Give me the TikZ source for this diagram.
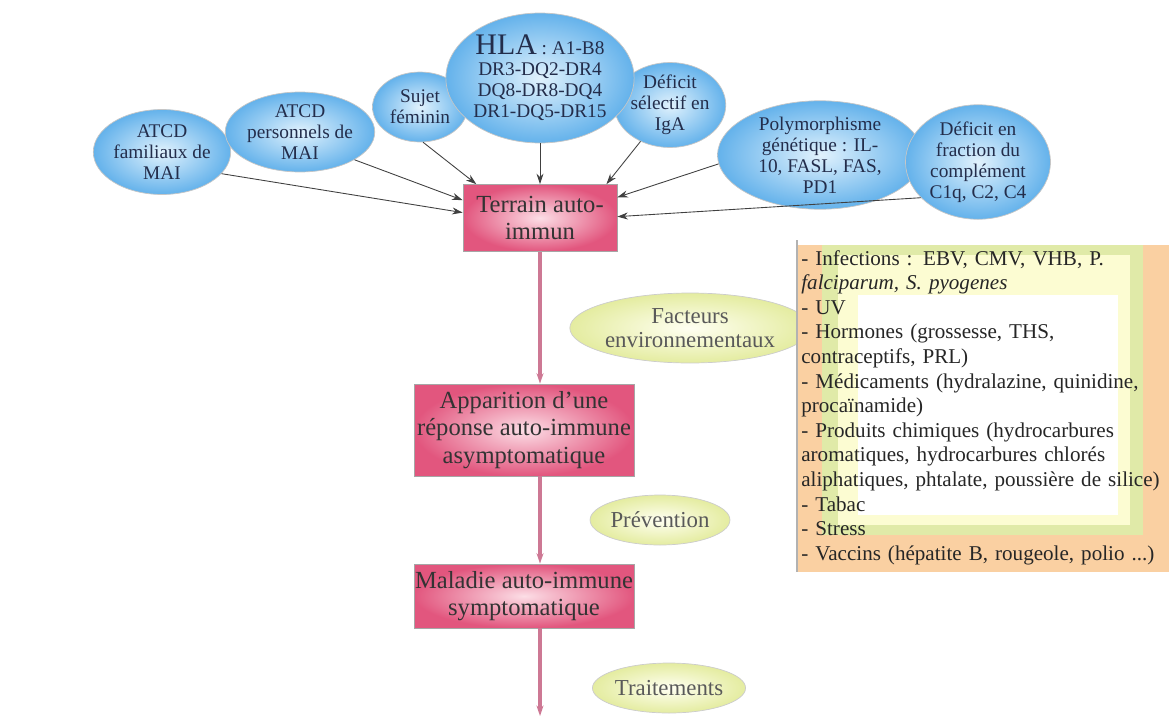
\documentclass[tikz,border=0pt]{standalone}
\usepackage{fontspec}
\setmainfont{Liberation Serif}
\usetikzlibrary{shapes.geometric,arrows.meta}

\definecolor{bluefill}{RGB}{100,178,235}
\definecolor{bluecore}{RGB}{225,242,253}
\definecolor{bluetext}{RGB}{35,45,75}
\definecolor{pinkfill}{RGB}{226,86,126}
\definecolor{pinkcore}{RGB}{252,222,230}
\definecolor{creamfill}{RGB}{228,236,160}
\definecolor{creamcore}{RGB}{255,255,242}
\definecolor{orangeband}{RGB}{250,208,162}
\definecolor{greenband}{RGB}{224,234,168}
\definecolor{paleband}{RGB}{252,252,210}
\definecolor{flowline}{RGB}{205,120,148}

\begin{document}
\begin{tikzpicture}[x=0.02cm,y=-0.02cm,>={Stealth[length=6pt,width=4pt]},
  risk node/.style={ellipse,inner sep=0pt,shading=radial,inner color=bluecore,
    outer color=bluefill,draw=gray!45,align=center,text=bluetext,
    font=\fontsize{11}{12}\selectfont},
  stage node/.style={rectangle,inner sep=0pt,shading=radial,inner color=pinkcore,
    outer color=pinkfill,draw=gray!70,align=center,text=black!80,
    font=\fontsize{14}{15.5}\selectfont},
  env node/.style={ellipse,inner sep=0pt,shading=radial,inner color=creamcore,
    outer color=creamfill,draw=gray!40,align=center,text=black!65,
    font=\fontsize{13}{14}\selectfont},
  risk edge/.style={->,black!75,line width=0.5pt},
  flow/.style={->,draw=flowline,line width=2pt}]

  \useasboundingbox (0,0) rectangle (1169,717);

  % facteurs de risque
  \node[risk node,minimum width=2.46cm,minimum height=1.7cm] (atcdf) at (162,152) {ATCD\\familiaux de\\MAI};
  \node[risk node,minimum width=2.66cm,minimum height=1.6cm] (atcdp) at (300,132) {ATCD\\personnels de\\MAI};
  \node[risk node,minimum width=1.9cm,minimum height=1.4cm] (sexe) at (420,107) {Sujet\\féminin};
  \node[risk node,minimum width=1.9cm,minimum height=1.7cm] (iga) at (670,105) {Déficit\\sélectif en\\IgA};
  \node[risk node,minimum width=3.1cm,minimum height=2.6cm] (hla) at (540,78) {{\fontsize{17}{17}\selectfont HLA} : A1-B8\\DR3-DQ2-DR4\\DQ8-DR8-DQ4\\DR1-DQ5-DR15};
  \node[risk node,minimum width=4.1cm,minimum height=2.1cm] (poly) at (820,155) {Polymorphisme\\génétique : IL-\\10, FASL, FAS,\\PD1};
  \node[risk node,minimum width=2.9cm,minimum height=2.2cm] (compl) at (978,162) {Déficit en\\fraction du\\complément\\C1q, C2, C4};

  % stades
  \node[stage node,minimum width=3.08cm,minimum height=1.34cm] (terrain) at (540,218) {Terrain auto-\\immun};
  \node[stage node,minimum width=4.4cm,minimum height=1.84cm] (reponse) at (524,430) {Apparition d'une\\réponse auto-immune\\asymptomatique};
  \node[stage node,minimum width=4.4cm,minimum height=1.28cm] (maladie) at (524,596) {Maladie auto-immune\\symptomatique};
  \coordinate (fin) at (540,716);

  % environnement
  \node[env node,minimum width=4.3cm,minimum height=1.4cm] (env) at (690,328) {Facteurs\\environnementaux};
  \node[env node,minimum width=2.4cm,minimum height=1.0cm] (prev) at (660,520) {Prévention};
  \node[env node,minimum width=2.84cm,minimum height=1.0cm] (trait) at (669,688) {Traitements};

  \fill[orangeband] (797,245) rectangle (1169,572);
  \fill[greenband] (822,245) rectangle (1143,535);
  \fill[paleband] (838,255) rectangle (1130,525);
  \fill[white] (858,295) rectangle (1118,515);
  \draw[gray!60,line width=1.2pt] (797,240) -- (797,572);
  \node[anchor=north west,inner sep=0pt,text width=7.3cm,align=left,
    font=\fontsize{12}{14}\selectfont,text=black!85] (envlist) at (801,250)
    {- Infections : EBV, CMV, VHB, P.\\
     \textit{falciparum, S. pyogenes}\\
     - UV\\
     - Hormones (grossesse, THS,\\
     contraceptifs, PRL)\\
     - Médicaments (hydralazine, quinidine,\\
     procaïnamide)\\
     - Produits chimiques (hydrocarbures\\
     aromatiques, hydrocarbures chlorés\\
     aliphatiques, phtalate, poussière de silice)\\
     - Tabac\\
     - Stress\\
     - Vaccins (hépatite B, rougeole, polio ...)};

  \path[risk edge]
    (atcdf.-20) edge (terrain.176)
    (atcdp.-27) edge (terrain.167)
    (sexe.-85) edge (terrain.152)
    (hla.-90) edge (terrain.90)
    (iga.-129) edge (terrain.27)
    (poly.185) edge (terrain.15)
    (compl.212) edge (terrain.1);

  \draw[flow] (terrain.south) -- (terrain.south |- reponse.north);
  \draw[flow] (reponse.south -| terrain.south) -- (terrain.south |- maladie.north);
  \draw[flow] (maladie.south -| terrain.south) -- (fin);
\end{tikzpicture}
\end{document}
